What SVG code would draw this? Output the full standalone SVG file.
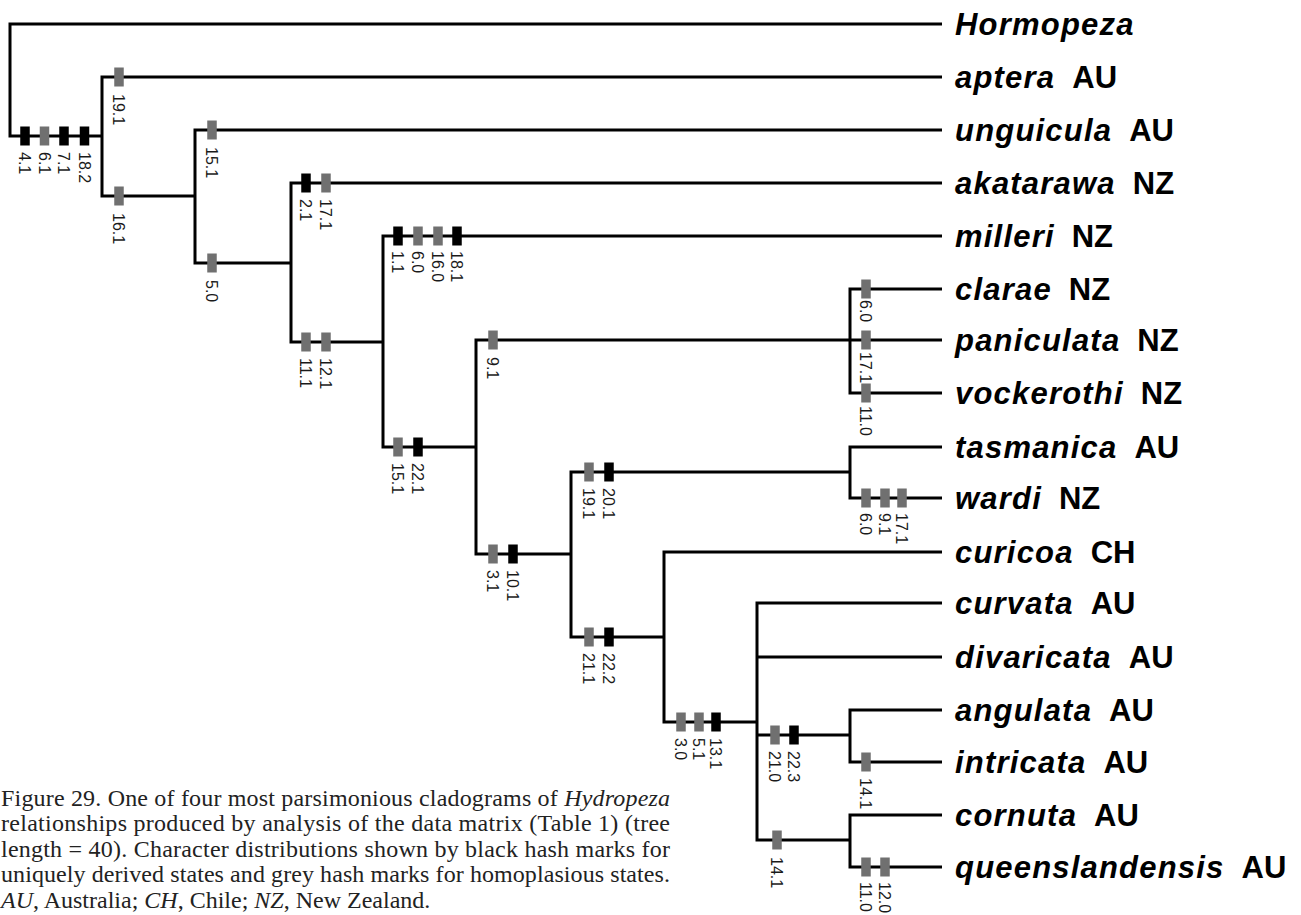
<svg xmlns="http://www.w3.org/2000/svg" xmlns:xlink="http://www.w3.org/1999/xlink" width="1301" height="915" viewBox="0 0 1301 915">
  <style>
    .br { fill: none; stroke: #000; stroke-width: 3; stroke-linejoin: miter; stroke-linecap: butt; }
    .lab { font-family: "Liberation Sans", Arial, sans-serif; font-size: 16px; fill: #1a1a1a; }
    .taxon { font-family: "Liberation Sans", Arial, sans-serif; font-size: 31px; font-weight: bold; fill: #000; }
    .sp { font-style: italic; letter-spacing: 1.2px; }
    .rg { font-style: normal; letter-spacing: 0; }
    .cap { font-family: "Liberation Serif", "Times New Roman", serif; font-size: 24px; fill: #222; }
    .it { font-style: italic; }
  </style>
  <defs>
    <!-- hash marks: black = uniquely derived, grey = homoplasious -->
    <rect id="hb" x="-4.75" y="-9.5" width="9.5" height="19" fill="#000"/>
    <rect id="hg" x="-4.75" y="-9.5" width="9.5" height="19" fill="#707070"/>
  </defs>
  <rect width="1301" height="915" fill="#fff"/>

  <!-- branches -->
  <g id="connectors">
    <path class="br" d="M942 24 H10 V136 H102"/>
    <path class="br" d="M942 77 H102 V196 H195"/>
    <path class="br" d="M942 130 H195 V263 H291"/>
    <path class="br" d="M942 183 H291 V342 H383"/>
    <path class="br" d="M942 236 H383 V447 H476"/>
    <path class="br" d="M942 340 H476 V554 H571"/>
    <path class="br" d="M942 289 H850 V393 H942"/>
    <path class="br" d="M850 472 H571 V637 H664"/>
    <path class="br" d="M942 447 H850 V498 H942"/>
    <path class="br" d="M942 552 H664 V722 H757"/>
    <path class="br" d="M942 603 H757 V840 H850 M757 657 H942 M757 735 H850"/>
    <path class="br" d="M942 710 H850 V762 H942"/>
    <path class="br" d="M942 815 H850 V867 H942"/>
  </g>

  <!-- character hash marks with their labels -->
  <g id="hash-root">
    <use href="#hb" x="25" y="136"/><use href="#hg" x="44.5" y="136"/><use href="#hb" x="64" y="136"/><use href="#hb" x="84.5" y="136"/>
    <text class="lab" transform="translate(19.3,152) rotate(90)">4.1</text>
    <text class="lab" transform="translate(38.8,152) rotate(90)">6.1</text>
    <text class="lab" transform="translate(58.3,152) rotate(90)">7.1</text>
    <text class="lab" transform="translate(78.8,152) rotate(90)">18.2</text>
  </g>
  <g id="hash-aptera">
    <use href="#hg" x="119" y="77"/>
    <text class="lab" transform="translate(113.3,94) rotate(90)">19.1</text>
  </g>
  <g id="hash-n2">
    <use href="#hg" x="119" y="196"/>
    <text class="lab" transform="translate(113.3,213) rotate(90)">16.1</text>
  </g>
  <g id="hash-unguicula">
    <use href="#hg" x="212" y="130"/>
    <text class="lab" transform="translate(206.3,147) rotate(90)">15.1</text>
  </g>
  <g id="hash-n3">
    <use href="#hg" x="212" y="263"/>
    <text class="lab" transform="translate(206.3,280) rotate(90)">5.0</text>
  </g>
  <g id="hash-akatarawa">
    <use href="#hb" x="306" y="183"/><use href="#hg" x="326" y="183"/>
    <text class="lab" transform="translate(300.3,199) rotate(90)">2.1</text>
    <text class="lab" transform="translate(320.3,199) rotate(90)">17.1</text>
  </g>
  <g id="hash-n4">
    <use href="#hg" x="306" y="342"/><use href="#hg" x="326" y="342"/>
    <text class="lab" transform="translate(300.3,358) rotate(90)">11.1</text>
    <text class="lab" transform="translate(320.3,358) rotate(90)">12.1</text>
  </g>
  <g id="hash-milleri">
    <use href="#hb" x="398" y="236"/><use href="#hg" x="418" y="236"/><use href="#hg" x="438" y="236"/><use href="#hb" x="457" y="236"/>
    <text class="lab" transform="translate(392.3,251) rotate(90)">1.1</text>
    <text class="lab" transform="translate(412.3,251) rotate(90)">6.0</text>
    <text class="lab" transform="translate(432.3,251) rotate(90)">16.0</text>
    <text class="lab" transform="translate(451.3,251) rotate(90)">18.1</text>
  </g>
  <g id="hash-n5">
    <use href="#hg" x="398" y="447"/><use href="#hb" x="418" y="447"/>
    <text class="lab" transform="translate(392.3,463) rotate(90)">15.1</text>
    <text class="lab" transform="translate(412.3,463) rotate(90)">22.1</text>
  </g>
  <g id="hash-clade-p">
    <use href="#hg" x="493" y="340"/>
    <text class="lab" transform="translate(487.3,357) rotate(90)">9.1</text>
  </g>
  <g id="hash-n6">
    <use href="#hg" x="493" y="554"/><use href="#hb" x="513" y="554"/>
    <text class="lab" transform="translate(487.3,570) rotate(90)">3.1</text>
    <text class="lab" transform="translate(507.3,570) rotate(90)">10.1</text>
  </g>
  <g id="hash-clade-tw">
    <use href="#hg" x="589" y="472"/><use href="#hb" x="609" y="472"/>
    <text class="lab" transform="translate(583.3,488) rotate(90)">19.1</text>
    <text class="lab" transform="translate(603.3,488) rotate(90)">20.1</text>
  </g>
  <g id="hash-n7">
    <use href="#hg" x="589" y="637"/><use href="#hb" x="609" y="637"/>
    <text class="lab" transform="translate(583.3,653) rotate(90)">21.1</text>
    <text class="lab" transform="translate(603.3,653) rotate(90)">22.2</text>
  </g>
  <g id="hash-n8">
    <use href="#hg" x="681" y="722"/><use href="#hg" x="699" y="722"/><use href="#hb" x="716" y="722"/>
    <text class="lab" transform="translate(675.3,738) rotate(90)">3.0</text>
    <text class="lab" transform="translate(693.3,738) rotate(90)">5.1</text>
    <text class="lab" transform="translate(710.3,738) rotate(90)">13.1</text>
  </g>
  <g id="hash-clade-ai">
    <use href="#hg" x="775" y="735"/><use href="#hb" x="794" y="735"/>
    <text class="lab" transform="translate(769.3,751) rotate(90)">21.0</text>
    <text class="lab" transform="translate(788.3,751) rotate(90)">22.3</text>
  </g>
  <g id="hash-clade-cq">
    <use href="#hg" x="777" y="840"/>
    <text class="lab" transform="translate(771.3,857) rotate(90)">14.1</text>
  </g>
  <g id="hash-clarae">
    <use href="#hg" x="866" y="289"/>
    <text class="lab" transform="translate(860.3,300) rotate(90)">6.0</text>
  </g>
  <g id="hash-paniculata">
    <use href="#hg" x="866" y="340"/>
    <text class="lab" transform="translate(860.3,352) rotate(90)">17.1</text>
  </g>
  <g id="hash-vockerothi">
    <use href="#hg" x="866" y="393"/>
    <text class="lab" transform="translate(860.3,406) rotate(90)">11.0</text>
  </g>
  <g id="hash-wardi">
    <use href="#hg" x="866" y="498"/><use href="#hg" x="885" y="498"/><use href="#hg" x="902" y="498"/>
    <text class="lab" transform="translate(860.3,513) rotate(90)">6.0</text>
    <text class="lab" transform="translate(879.3,513) rotate(90)">9.1</text>
    <text class="lab" transform="translate(896.3,513) rotate(90)">17.1</text>
  </g>
  <g id="hash-intricata">
    <use href="#hg" x="866" y="762"/>
    <text class="lab" transform="translate(860.3,778) rotate(90)">14.1</text>
  </g>
  <g id="hash-queenslandensis">
    <use href="#hg" x="866" y="867"/><use href="#hg" x="885" y="867"/>
    <text class="lab" transform="translate(860.3,882) rotate(90)">11.0</text>
    <text class="lab" transform="translate(879.3,882) rotate(90)">12.0</text>
  </g>

  <!-- terminal taxa -->
  <g id="taxon-hormopeza"><text class="taxon" x="955" y="35"><tspan class="sp">Hormopeza</tspan></text></g>
  <g id="taxon-aptera"><text class="taxon" x="955" y="88"><tspan class="sp">aptera</tspan><tspan class="rg" dx="17">AU</tspan></text></g>
  <g id="taxon-unguicula"><text class="taxon" x="955" y="141"><tspan class="sp">unguicula</tspan><tspan class="rg" dx="17">AU</tspan></text></g>
  <g id="taxon-akatarawa"><text class="taxon" x="955" y="194"><tspan class="sp">akatarawa</tspan><tspan class="rg" dx="17">NZ</tspan></text></g>
  <g id="taxon-milleri"><text class="taxon" x="955" y="247"><tspan class="sp">milleri</tspan><tspan class="rg" dx="17">NZ</tspan></text></g>
  <g id="taxon-clarae"><text class="taxon" x="955" y="300"><tspan class="sp">clarae</tspan><tspan class="rg" dx="17">NZ</tspan></text></g>
  <g id="taxon-paniculata"><text class="taxon" x="955" y="351"><tspan class="sp">paniculata</tspan><tspan class="rg" dx="17">NZ</tspan></text></g>
  <g id="taxon-vockerothi"><text class="taxon" x="955" y="404"><tspan class="sp">vockerothi</tspan><tspan class="rg" dx="17">NZ</tspan></text></g>
  <g id="taxon-tasmanica"><text class="taxon" x="955" y="458"><tspan class="sp">tasmanica</tspan><tspan class="rg" dx="17">AU</tspan></text></g>
  <g id="taxon-wardi"><text class="taxon" x="955" y="509"><tspan class="sp">wardi</tspan><tspan class="rg" dx="17">NZ</tspan></text></g>
  <g id="taxon-curicoa"><text class="taxon" x="955" y="563"><tspan class="sp">curicoa</tspan><tspan class="rg" dx="17">CH</tspan></text></g>
  <g id="taxon-curvata"><text class="taxon" x="955" y="614"><tspan class="sp">curvata</tspan><tspan class="rg" dx="17">AU</tspan></text></g>
  <g id="taxon-divaricata"><text class="taxon" x="955" y="668"><tspan class="sp">divaricata</tspan><tspan class="rg" dx="17">AU</tspan></text></g>
  <g id="taxon-angulata"><text class="taxon" x="955" y="721"><tspan class="sp">angulata</tspan><tspan class="rg" dx="17">AU</tspan></text></g>
  <g id="taxon-intricata"><text class="taxon" x="955" y="773"><tspan class="sp">intricata</tspan><tspan class="rg" dx="17">AU</tspan></text></g>
  <g id="taxon-cornuta"><text class="taxon" x="955" y="826"><tspan class="sp">cornuta</tspan><tspan class="rg" dx="17">AU</tspan></text></g>
  <g id="taxon-queenslandensis"><text class="taxon" x="955" y="878"><tspan class="sp">queenslandensis</tspan><tspan class="rg" dx="17">AU</tspan></text></g>

  <!-- figure caption -->
  <g id="caption">
    <text class="cap" x="1" y="805.5" textLength="669" lengthAdjust="spacing">Figure 29. One of four most parsimonious cladograms of <tspan class="it">Hydropeza</tspan></text>
    <text class="cap" x="1" y="831" textLength="669" lengthAdjust="spacing">relationships produced by analysis of the data matrix (Table 1) (tree</text>
    <text class="cap" x="1" y="856.5" textLength="669" lengthAdjust="spacing">length = 40). Character distributions shown by black hash marks for</text>
    <text class="cap" x="1" y="882" textLength="669" lengthAdjust="spacing">uniquely derived states and grey hash marks for homoplasious states.</text>
    <text class="cap" x="1" y="907.5"><tspan class="it">AU</tspan>, Australia; <tspan class="it">CH</tspan>, Chile; <tspan class="it">NZ</tspan>, New Zealand.</text>
  </g>
</svg>
